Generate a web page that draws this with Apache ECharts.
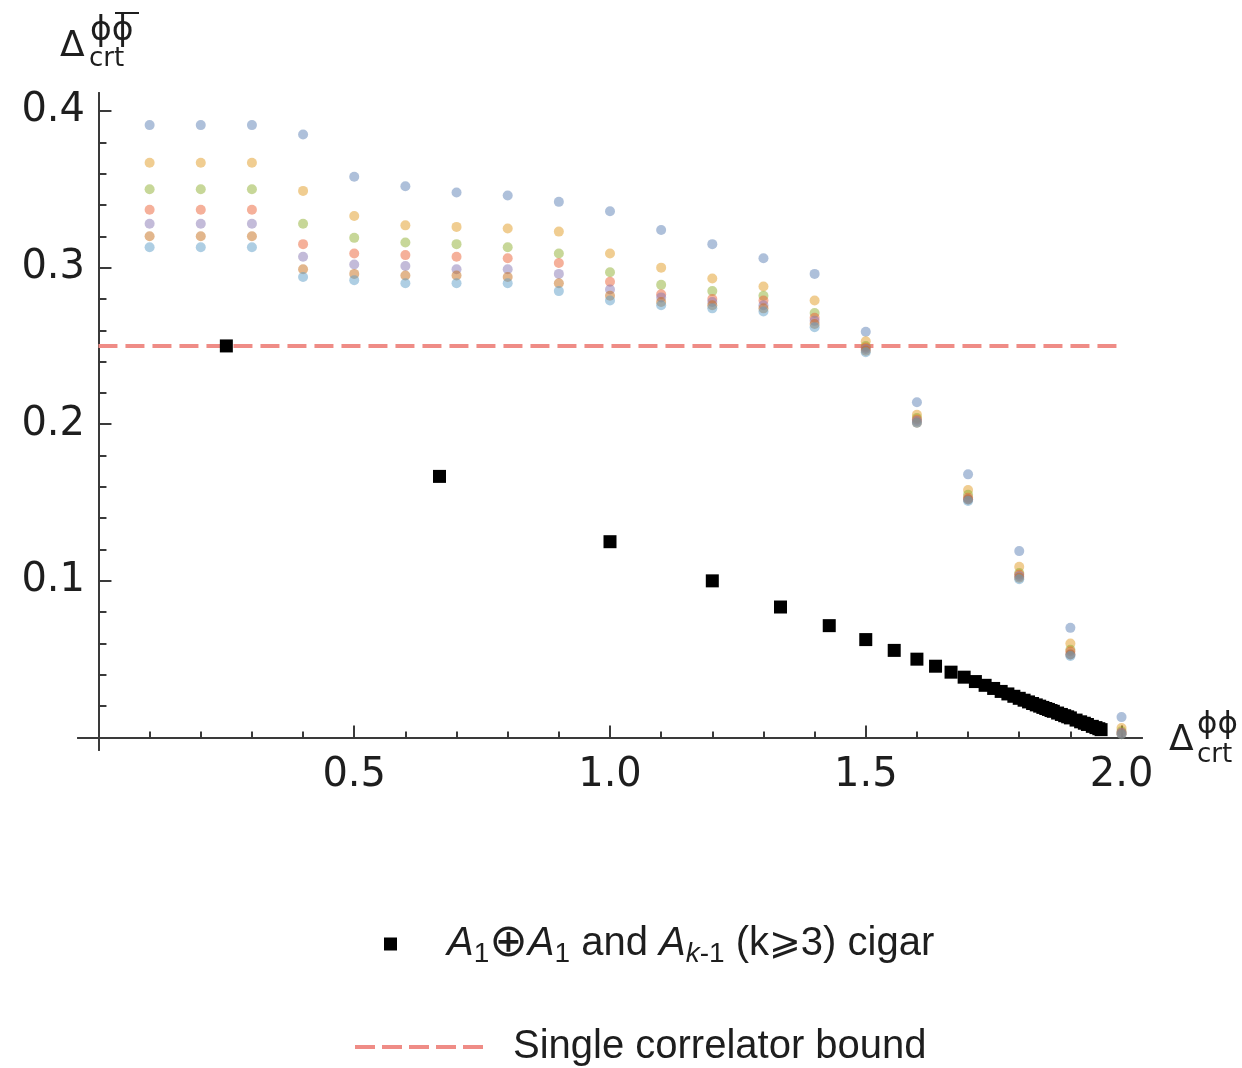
<!DOCTYPE html>
<html>
<head>
<meta charset="utf-8">
<script src="https://cdn.jsdelivr.net/npm/echarts@6/dist/echarts.min.js"></script>
<style>
  html, body { margin: 0; padding: 0; background: #ffffff; }
  #chart { width: 1242px; height: 1068px; }
</style>
</head>
<body>
<div id="chart"></div>
<script>
// Sample points along Δ_crt^{ϕϕ}
const xs = [0.1, 0.2, 0.3, 0.4, 0.5, 0.6, 0.7, 0.8, 0.9, 1.0,
            1.1, 1.2, 1.3, 1.4, 1.5, 1.6, 1.7, 1.8, 1.9, 2.0];

// Δ_crt^{ϕϕ̄} bounds, one array per truncation
const band1 = [0.391, 0.391, 0.391, 0.385, 0.358, 0.352, 0.348, 0.346, 0.342, 0.336,
               0.324, 0.315, 0.306, 0.296, 0.259, 0.214, 0.168, 0.119, 0.070, 0.013];
const band2 = [0.367, 0.367, 0.367, 0.349, 0.333, 0.327, 0.326, 0.325, 0.323, 0.309,
               0.300, 0.293, 0.288, 0.279, 0.253, 0.206, 0.158, 0.109, 0.060, 0.006];
const band3 = [0.350, 0.350, 0.350, 0.328, 0.319, 0.316, 0.315, 0.313, 0.309, 0.297,
               0.289, 0.285, 0.282, 0.271, 0.250, 0.204, 0.155, 0.105, 0.056, 0.004];
const band4 = [0.337, 0.337, 0.337, 0.315, 0.309, 0.308, 0.307, 0.306, 0.303, 0.291,
               0.283, 0.280, 0.279, 0.268, 0.249, 0.203, 0.153, 0.104, 0.055, 0.003];
const band5 = [0.328, 0.328, 0.328, 0.307, 0.302, 0.301, 0.299, 0.299, 0.296, 0.286,
               0.281, 0.278, 0.276, 0.266, 0.248, 0.202, 0.152, 0.103, 0.053, 0.003];
const band6 = [0.320, 0.320, 0.320, 0.299, 0.296, 0.295, 0.295, 0.294, 0.290, 0.282,
               0.278, 0.276, 0.274, 0.264, 0.247, 0.201, 0.152, 0.102, 0.053, 0.002];
const band7 = [0.313, 0.313, 0.313, 0.294, 0.292, 0.290, 0.290, 0.290, 0.285, 0.279,
               0.276, 0.274, 0.272, 0.262, 0.246, 0.201, 0.151, 0.101, 0.052, 0.002];

// A1⊕A1 point followed by the A_{k-1} cigar points (k = 3, 4, ...)
const cigarX = [0.25, 0.6667, 1.0, 1.2, 1.3333, 1.4286, 1.5, 1.5556, 1.6, 1.6364,
                1.6667, 1.6923, 1.7143, 1.7333, 1.75, 1.7647, 1.7778, 1.7895, 1.8, 1.8095,
                1.8182, 1.8261, 1.8333, 1.84, 1.8462, 1.8519, 1.8571, 1.8621, 1.8667, 1.875,
                1.8824, 1.8889, 1.8947, 1.9, 1.9111, 1.92, 1.9273, 1.9333, 1.9429, 1.95,
                1.9556, 1.96];
const cigarY = [0.25, 0.1667, 0.125, 0.1, 0.0833, 0.0714, 0.0625, 0.0556, 0.05, 0.0455,
                0.0417, 0.0385, 0.0357, 0.0333, 0.0313, 0.0294, 0.0278, 0.0263, 0.025, 0.0238,
                0.0227, 0.0217, 0.0208, 0.02, 0.0192, 0.0185, 0.0179, 0.0172, 0.0167, 0.0156,
                0.0147, 0.0139, 0.0132, 0.0125, 0.0111, 0.01, 0.0091, 0.0083, 0.0071, 0.0063,
                0.0056, 0.005];

// Single correlator bound
const boundX = [0, 2.0];
const boundY = [0.25, 0.25];

// Tick positions
const xMajorTicks = [0.5, 1.0, 1.5, 2.0];
const xMinorTicks = [0.1, 0.2, 0.3, 0.4, 0.6, 0.7, 0.8, 0.9, 1.1, 1.2, 1.3, 1.4, 1.6, 1.7, 1.8, 1.9];
const yMajorTicks = [0.1, 0.2, 0.3, 0.4];
const yMinorTicks = [0.02, 0.04, 0.06, 0.08, 0.12, 0.14, 0.16, 0.18, 0.22, 0.24, 0.26, 0.28,
                     0.32, 0.34, 0.36, 0.38];

const bands = [band1, band2, band3, band4, band5, band6, band7];
const bandColors = ['#5E81B5', '#E19C24', '#8FB032', '#EB6235', '#8778B3', '#C56E1A', '#5D9EC7'];

const AXIS_COLOR = '#3a3a3a';
const TEXT_COLOR = '#1e1e1e';
const BOUND_COLOR = '#ef8c86';

const zip = (a, b) => a.map((v, i) => [v, b[i]]);

const chart = echarts.init(document.getElementById('chart'), null, { renderer: 'canvas' });

function xAxisDef(ticks, len, withLabels) {
  return {
    type: 'value', min: -0.04, max: 2.04, position: 'bottom',
    axisLine: { show: true, onZero: true, lineStyle: { color: AXIS_COLOR, width: 2 } },
    axisTick: { show: true, inside: true, length: len, customValues: ticks,
                lineStyle: { color: AXIS_COLOR, width: 2 } },
    axisLabel: withLabels ? {
      show: true, customValues: ticks, margin: 6,
      fontFamily: 'DejaVu Sans', fontSize: 40, color: TEXT_COLOR,
      formatter: v => v.toFixed(1)
    } : { show: false },
    splitLine: { show: false }
  };
}
function yAxisDef(ticks, len, withLabels) {
  return {
    type: 'value', min: -0.008, max: 0.4115, position: 'left',
    axisLine: { show: true, onZero: true, lineStyle: { color: AXIS_COLOR, width: 2 } },
    axisTick: { show: true, inside: true, length: len, customValues: ticks,
                lineStyle: { color: AXIS_COLOR, width: 2 } },
    axisLabel: withLabels ? {
      show: true, customValues: ticks, margin: -7,
      fontFamily: 'DejaVu Sans', fontSize: 40, color: TEXT_COLOR,
      formatter: v => v.toFixed(1)
    } : { show: false },
    splitLine: { show: false }
  };
}

const series = [];
series.push({
  name: 'Single correlator bound', type: 'line',
  data: zip(boundX, boundY), symbol: 'none',
  color: BOUND_COLOR,
  lineStyle: { color: BOUND_COLOR, width: 4, type: [19, 8] },
  itemStyle: { color: BOUND_COLOR },
  silent: true, z: 2
});
bands.forEach((b, i) => {
  series.push({
    name: 'band' + (i + 1), type: 'scatter',
    data: zip(xs, b), symbol: 'circle', symbolSize: 10,
    itemStyle: { color: bandColors[i], opacity: 0.5 },
    silent: true, z: 3
  });
});
series.push({
  name: 'cigar', type: 'scatter',
  data: zip(cigarX, cigarY), symbol: 'rect', symbolSize: 13,
  itemStyle: { color: '#000000', opacity: 1 },
  silent: true, z: 4
});

const legendRich = {
  sp: { width: 45 },
  n: { fontFamily: 'Liberation Sans', fontSize: 40, lineHeight: 48, color: TEXT_COLOR },
  i: { fontFamily: 'Liberation Sans', fontStyle: 'italic', fontSize: 40, lineHeight: 48, color: TEXT_COLOR },
  s: { fontFamily: 'Liberation Sans', fontSize: 28, lineHeight: 26, verticalAlign: 'bottom', color: TEXT_COLOR },
  si: { fontFamily: 'Liberation Sans', fontStyle: 'italic', fontSize: 28, lineHeight: 26, verticalAlign: 'bottom', color: TEXT_COLOR },
  o: { fontFamily: 'DejaVu Sans', fontSize: 46, lineHeight: 48, color: TEXT_COLOR },
  g: { fontFamily: 'DejaVu Sans', fontSize: 38, lineHeight: 48, color: TEXT_COLOR },
  sp2: { width: 25 }
};

const option = {
  backgroundColor: '#ffffff',
  animation: false,
  grid: { left: 78, right: 100, top: 93, bottom: 318, outerBoundsMode: 'none', containLabel: false },
  xAxis: [xAxisDef(xMajorTicks, 12, true), xAxisDef(xMinorTicks, 6, false)],
  yAxis: [yAxisDef(yMajorTicks, 13, true), yAxisDef(yMinorTicks, 8, false)],
  legend: [
    {
      data: [{ name: 'cigar', icon: 'rect' }],
      left: 384, top: 921, padding: 0,
      itemWidth: 13, itemHeight: 13, selectedMode: false,
      formatter: () => '{sp| }{i|A}{s|1}{o|⊕}{i|A}{s|1}{n| and }{i|A}{si|k}{s|-1}{n| (k}{g|⩾}{n|3) cigar}',
      textStyle: { rich: legendRich }
    },
    {
      data: [{ name: 'Single correlator bound',
               icon: 'path://M0,0H20V4H0Z M27,0H47V4H27Z M54,0H74V4H54Z M81,0H101V4H81Z M108,0H128V4H108Z' }],
      left: 355, top: 1027, padding: 0,
      itemWidth: 128, itemHeight: 4, selectedMode: false,
      itemStyle: { borderWidth: 0 },
      formatter: name => '{sp2| }{n|' + name + '}',
      textStyle: { rich: legendRich }
    }
  ],
  graphic: [
    // vertical axis name: Δ_crt^{ϕϕ̄}
    { type: 'text', x: 60, y: 47, style: { text: 'Δ', fontFamily: 'DejaVu Sans', fontSize: 36, fill: TEXT_COLOR, align: 'left', verticalAlign: 'middle' } },
    { type: 'text', x: 90, y: 31, style: { text: 'ϕϕ', fontFamily: 'DejaVu Sans', fontSize: 33, fill: TEXT_COLOR, align: 'left', verticalAlign: 'middle' } },
    { type: 'line', shape: { x1: 115, y1: 13, x2: 139, y2: 13 }, style: { stroke: TEXT_COLOR, lineWidth: 2 } },
    { type: 'text', x: 89, y: 59, style: { text: 'crt', fontFamily: 'DejaVu Sans', fontSize: 26, fill: TEXT_COLOR, align: 'left', verticalAlign: 'middle' } },
    // horizontal axis name: Δ_crt^{ϕϕ}
    { type: 'text', x: 1169, y: 741, style: { text: 'Δ', fontFamily: 'DejaVu Sans', fontSize: 36, fill: TEXT_COLOR, align: 'left', verticalAlign: 'middle' } },
    { type: 'text', x: 1197, y: 725, style: { text: 'ϕϕ', fontFamily: 'DejaVu Sans', fontSize: 31, fill: TEXT_COLOR, align: 'left', verticalAlign: 'middle' } },
    { type: 'text', x: 1197, y: 755, style: { text: 'crt', fontFamily: 'DejaVu Sans', fontSize: 26, fill: TEXT_COLOR, align: 'left', verticalAlign: 'middle' } }
  ],
  series: series
};

chart.setOption(option);
</script>
</body>
</html>
